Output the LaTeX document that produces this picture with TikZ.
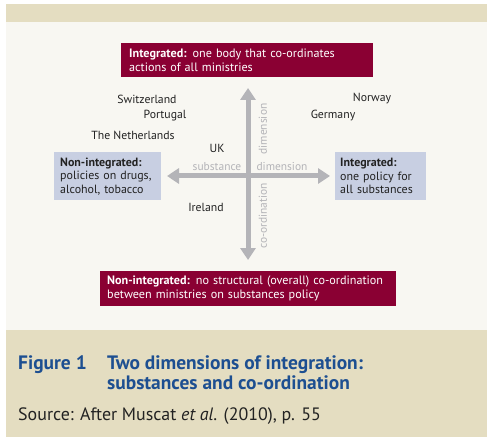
\documentclass[tikz,border=0pt]{standalone}
\usepackage{fontspec}
\setmainfont{PT Sans}
\usetikzlibrary{arrows.meta}
\definecolor{beige}{HTML}{E4DDC1}
\definecolor{panel}{HTML}{F8F7F2}
\definecolor{wine}{HTML}{8A0033}
\definecolor{bluebox}{HTML}{C8CFE2}
\definecolor{axisgray}{HTML}{B4B4B8}
\definecolor{capblue}{HTML}{1D4F91}
\definecolor{txt}{HTML}{222222}
\tikzset{
  redbox/.style={fill=wine, text=white, inner xsep=8bp, inner ysep=0bp, align=left, font=\fontsize{12.2}{14}\selectfont, anchor=north west},
  bluelabel/.style={fill=bluebox, text=txt, inner xsep=6bp, inner ysep=0bp, align=left, font=\fontsize{12}{13.5}\selectfont, anchor=north west},
  country/.style={text=txt, font=\fontsize{11.8}{13}\selectfont, inner sep=0bp},
  axislabel/.style={text=axisgray, font=\fontsize{11.5}{12}\selectfont, inner sep=0bp},
  axis/.style={draw=axisgray, line width=5bp, {Triangle[length=12bp,width=15bp]}-{Triangle[length=12bp,width=15bp]}},
}
\begin{document}
\begin{tikzpicture}[x=1bp,y=-1bp]
\useasboundingbox[fill=white] (0,0) rectangle (490,441);
\fill[beige] (6,4) rectangle (487,437);
\fill[panel] (6,22) rectangle (487,330);
% boxes
\node[redbox, minimum width=252bp, minimum height=34bp, text width=236bp] (top) at (121,43)
  {\mbox{\textbf{Integrated:} one body that co-ordinates}\\\mbox{actions of all ministries}};
\node[redbox, minimum width=296bp, minimum height=35bp, text width=282bp, inner xsep=7bp] (bottom) at (100,271)
  {\mbox{\textbf{Non-integrated:} no structural (overall) co-ordination}\\\mbox{between ministries on substances policy}};
\node[bluelabel, minimum width=107bp, minimum height=48bp, text width=95bp] (left) at (54,152)
  {\textbf{Non-integrated:}\\policies on drugs,\\alcohol, tobacco};
\node[bluelabel, minimum width=91bp, minimum height=48bp, text width=81bp, inner xsep=5bp] (right) at (335,152)
  {\textbf{Integrated:}\\one policy for\\\mbox{all substances}};
% axes
\coordinate (vtop) at (248,88);
\coordinate (vbot) at (248,260);
\coordinate (hleft) at (167,176);
\coordinate (hright) at (330,176);
\draw[axis] (vbot) -- (vtop);
\draw[axis] (hleft) -- (hright);
\node[axislabel, rotate=90] (dimv) at (263,129) {dimension};
\node[axislabel, rotate=90] (coord) at (263,216) {co-ordination};
\node[axislabel] (subst) at (217,167) {substance};
\node[axislabel] (dimh) at (282,167) {dimension};
% countries
\node[country] (ch) at (147,99) {Switzerland};
\node[country] (no) at (372,99) {Norway};
\node[country] (pt) at (165,116) {Portugal};
\node[country] (de) at (333,116) {Germany};
\node[country] (nl) at (133,135) {The Netherlands};
\node[country] (uk) at (217,148) {UK};
\node[country] (ie) at (206,207) {Ireland};
% caption
\node[anchor=base west, inner sep=0bp, text=capblue, font=\fontsize{19.5}{21}\selectfont\bfseries] (fig) at (18,369) {Figure 1};
\node[anchor=north west, inner sep=0bp, text=capblue, align=left, font=\fontsize{19.5}{21}\selectfont\bfseries] (title) at (107,355) {Two dimensions of integration:\\substances and co-ordination};
\node[anchor=base west, inner sep=0bp, text=txt, font=\fontsize{18}{20}\selectfont] (src) at (18,420) {Source: After Muscat \textit{et al.} (2010), p. 55};
\end{tikzpicture}
\end{document}
